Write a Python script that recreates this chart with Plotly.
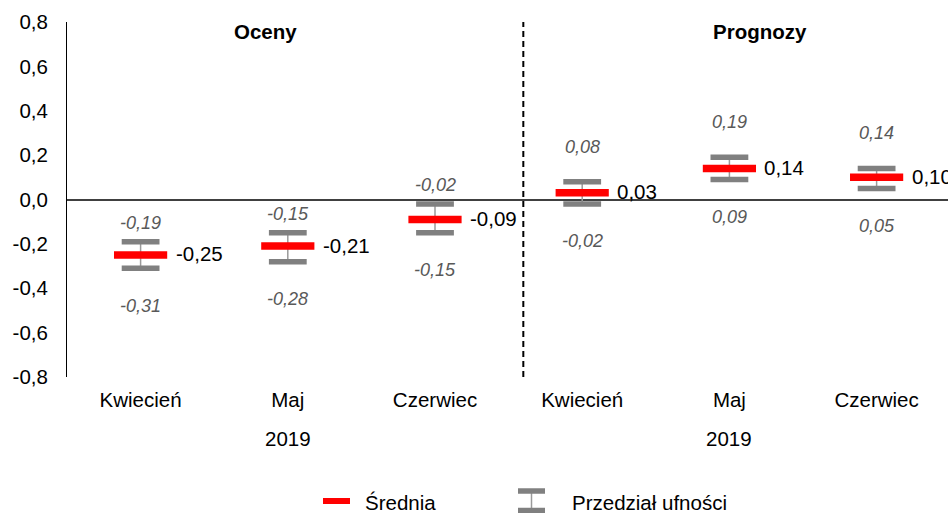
import plotly.graph_objects as go

# ---------------- data ----------------
months = ["Kwiecień", "Maj", "Czerwiec", "Kwiecień", "Maj", "Czerwiec"]
groups = ["Oceny", "Oceny", "Oceny", "Prognozy", "Prognozy", "Prognozy"]
year_label = "2019"
mean_vals = [-0.25, -0.21, -0.09, 0.03, 0.14, 0.10]
lower_vals = [-0.31, -0.28, -0.15, -0.02, 0.09, 0.05]
upper_vals = [-0.19, -0.15, -0.02, 0.08, 0.19, 0.14]
y_tick_vals = [-0.8, -0.6, -0.4, -0.2, 0.0, 0.2, 0.4, 0.6, 0.8]
y_tick_text = ["-0,8", "-0,6", "-0,4", "-0,2", "0,0", "0,2", "0,4", "0,6", "0,8"]
legend_mean = "Średnia"
legend_ci = "Przedział ufności"

# ---------------- styling ----------------
W, H = 948, 513
ML, MR, MT, MB = 67, 0, 22, 136
PW, PH = W - ML - MR, H - MT - MB
FONT = "Arial, Liberation Sans, sans-serif"
RED = "#ff0000"
GREY = "#808080"
STEM = "#9a9a9a"
LABEL_GREY = "#595959"


def fmt(v):
    return f"{v:.2f}".replace(".", ",")


def px_x(px):
    return (px - ML) / PW


def px_y(py):
    return (H - MB - py) / PH


x = list(range(len(months)))

fig = go.Figure()

# confidence interval stems
fig.add_trace(go.Scatter(
    x=x, y=mean_vals, mode="markers",
    marker=dict(color="rgba(0,0,0,0)", size=1),
    error_y=dict(type="data", symmetric=False,
                 array=[u - m for u, m in zip(upper_vals, mean_vals)],
                 arrayminus=[m - l for m, l in zip(mean_vals, lower_vals)],
                 color=STEM, thickness=1.5, width=0),
    hoverinfo="skip", showlegend=False,
))
# caps
fig.add_trace(go.Scatter(
    x=x + x, y=lower_vals + upper_vals, mode="markers",
    marker=dict(symbol="line-ew", size=27, line=dict(width=5.5, color=GREY)),
    showlegend=False, name=legend_ci,
))
# means
fig.add_trace(go.Scatter(
    x=x, y=mean_vals, mode="markers",
    marker=dict(symbol="line-ew", size=38, line=dict(width=7.5, color=RED)),
    showlegend=False, name=legend_mean,
))

annotations = []
for i, (m, lo, up, g) in enumerate(zip(mean_vals, lower_vals, upper_vals, groups)):
    annotations.append(dict(x=i, y=m, xref="x", yref="y", text=fmt(m), showarrow=False,
                            xanchor="left", yanchor="middle", xshift=33, yshift=1,
                            font=dict(family=FONT, size=20.5, color="#000000")))
    up_off = 19 if g == groups[0] else 35
    annotations.append(dict(x=i, y=up, xref="x", yref="y", text=f"<i>{fmt(up)}</i>",
                            showarrow=False, xanchor="center", yanchor="middle", yshift=up_off,
                            font=dict(family=FONT, size=18, color=LABEL_GREY)))
    annotations.append(dict(x=i, y=lo, xref="x", yref="y", text=f"<i>{fmt(lo)}</i>",
                            showarrow=False, xanchor="center", yanchor="middle", yshift=-37.5,
                            font=dict(family=FONT, size=18, color=LABEL_GREY)))

# year labels centered under each group
for g in dict.fromkeys(groups):
    idx = [i for i, gg in enumerate(groups) if gg == g]
    annotations.append(dict(x=sum(idx) / len(idx), y=0, xref="x", yref="paper",
                            text=year_label, showarrow=False, xanchor="center",
                            yanchor="middle", yshift=-61,
                            font=dict(family=FONT, size=20.5, color="#000000")))

# group headers
for g, px in zip(dict.fromkeys(groups), [265, 760]):
    annotations.append(dict(x=px_x(px), y=px_y(32), xref="paper", yref="paper",
                            text=f"<b>{g}</b>", showarrow=False, xanchor="center",
                            yanchor="middle",
                            font=dict(family=FONT, size=20.5, color="#000000")))

# legend texts
annotations.append(dict(x=px_x(363), y=px_y(502), xref="paper", yref="paper",
                        text=legend_mean, showarrow=False, xanchor="left", yanchor="middle",
                        font=dict(family=FONT, size=20.5, color="#000000")))
annotations.append(dict(x=px_x(570), y=px_y(502), xref="paper", yref="paper",
                        text=legend_ci, showarrow=False, xanchor="left", yanchor="middle",
                        font=dict(family=FONT, size=20.5, color="#000000")))

shapes = [
    # divider between estimates and forecasts
    dict(type="line", xref="x", yref="paper", x0=2.6, x1=2.6, y0=0, y1=1,
         line=dict(color="#000000", width=2, dash="6px,4px")),
    # legend: mean
    dict(type="line", xref="paper", yref="paper", x0=px_x(323), x1=px_x(350),
         y0=px_y(501), y1=px_y(501), line=dict(color=RED, width=6)),
    # legend: CI
    dict(type="line", xref="paper", yref="paper", x0=px_x(531.5), x1=px_x(531.5),
         y0=px_y(491), y1=px_y(510.5), line=dict(color=STEM, width=1.5)),
    dict(type="line", xref="paper", yref="paper", x0=px_x(518), x1=px_x(545),
         y0=px_y(491), y1=px_y(491), line=dict(color=GREY, width=5.5)),
    dict(type="line", xref="paper", yref="paper", x0=px_x(518), x1=px_x(545),
         y0=px_y(510.5), y1=px_y(510.5), line=dict(color=GREY, width=5.5)),
]

fig.update_layout(
    width=W, height=H,
    margin=dict(l=ML, r=MR, t=MT, b=MB, pad=0, autoexpand=False),
    paper_bgcolor="white", plot_bgcolor="white",
    showlegend=False,
    font=dict(family=FONT, size=20.5, color="#000000"),
    annotations=annotations,
    shapes=shapes,
    xaxis=dict(range=[-0.5, 5.485], tickvals=x, ticktext=months, showgrid=False,
               zeroline=False, showline=False, ticks="", ticklabelstandoff=8,
               automargin=False,
               tickfont=dict(family=FONT, size=20.5, color="#000000"), fixedrange=True),
    yaxis=dict(range=[-0.8, 0.8], tickvals=y_tick_vals, ticktext=y_tick_text,
               showgrid=False, zeroline=True, zerolinecolor="#404040", zerolinewidth=1.5,
               showline=True, linecolor="#000000", linewidth=1, ticks="",
               ticklabelstandoff=14, automargin=False,
               tickfont=dict(family=FONT, size=20.5, color="#000000"), fixedrange=True),
)

fig.write_html("out.html", config={"displayModeBar": False},
               post_script="document.body.style.margin='0px';document.body.style.overflow='hidden';")
